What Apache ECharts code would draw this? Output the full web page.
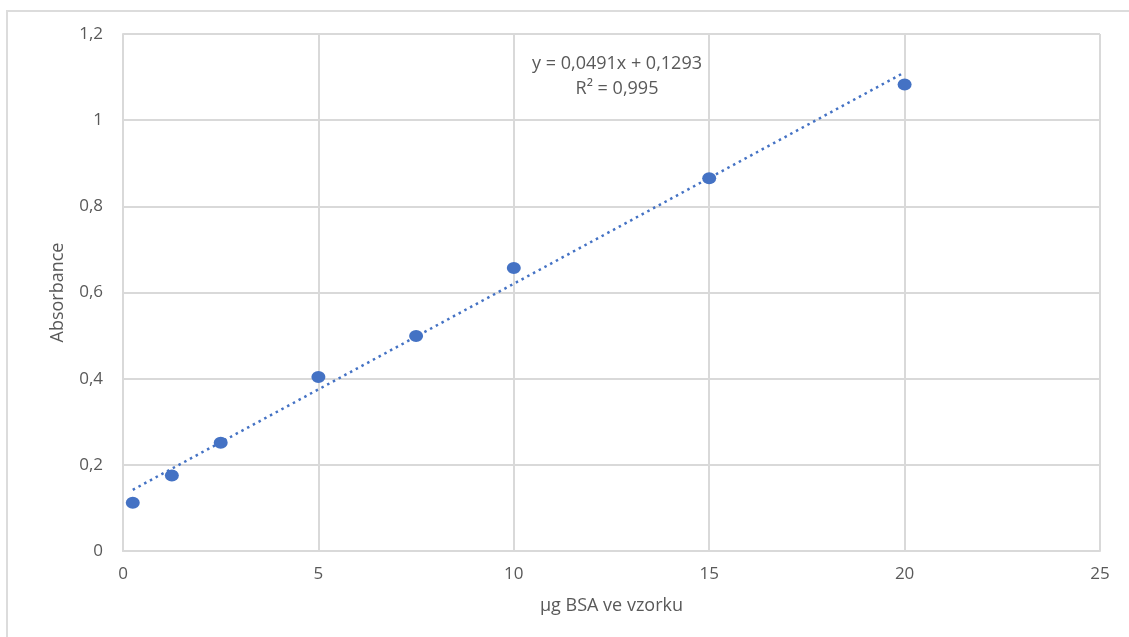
<!doctype html>
<html>
<head>
  <meta charset="utf-8">
  <title>Absorbance BSA</title>
  <script src="https://cdn.jsdelivr.net/npm/echarts@6/dist/echarts.min.js"></script>
  <style>
    html, body { margin: 0; padding: 0; background: #fff; }
    #main { width: 1129px; height: 637px; }
  </style>
</head>
<body>
  <div id="main"></div>
  <script>
  // measured points (µg BSA, absorbance)
  var bsa = [0.25, 1.25, 2.5, 5, 7.5, 10, 15, 20];
  var absorbance = [0.112, 0.175, 0.251, 0.404, 0.499, 0.657, 0.865, 1.083];
  // linear trendline ends as drawn
  var trendX = [0.25, 20];
  var trendY = [0.142, 1.111];
  var equation = ['y = 0,0491x + 0,1293', 'R² = 0,995'];

  var grey = '#595959';
  var gridCol = '#d9d9d9';
  var blue = '#4472c4';
  var font = '"Open Sans"';

  var pts = bsa.map(function (x, i) { return [x, absorbance[i]]; });
  var trend = trendX.map(function (x, i) { return [x, trendY[i]]; });

  function comma(v) {
    return String(+v.toFixed(1)).replace('.', ',');
  }

  var option = {
    animation: false,
    textStyle: { fontFamily: font },
    grid: { left: 123, top: 34, right: 29, bottom: 86 },
    graphic: [
      {
        type: 'rect', z: -10, silent: true,
        shape: { x: 7, y: 11, width: 1300, height: 800 },
        style: { fill: 'none', stroke: '#dcdcdc', lineWidth: 2 }
      },
      {
        type: 'text', z: 10, silent: true,
        x: 617, y: 51,
        style: {
          text: equation.join('\n'), textAlign: 'center',
          fill: grey, font: '18px ' + font, lineHeight: 25
        }
      }
    ],
    xAxis: {
      type: 'value', min: 0, max: 25, interval: 5,
      name: 'μg BSA ve vzorku', nameLocation: 'middle', nameGap: 46,
      nameTextStyle: { color: grey, fontSize: 18 },
      axisLine: { show: true, lineStyle: { color: gridCol, width: 2 } },
      axisTick: { show: false },
      axisLabel: { color: grey, fontSize: 17, margin: 15 },
      splitLine: { show: true, lineStyle: { color: gridCol, width: 2 } }
    },
    yAxis: {
      type: 'value', min: 0, max: 1.2, interval: 0.2,
      name: 'Absorbance', nameLocation: 'middle', nameGap: 56,
      nameTextStyle: { color: grey, fontSize: 18 },
      axisLine: { show: true, lineStyle: { color: gridCol, width: 2 } },
      axisTick: { show: false },
      axisLabel: { color: grey, fontSize: 17, margin: 20, formatter: comma },
      splitLine: { show: true, lineStyle: { color: gridCol, width: 2 } }
    },
    series: [
      {
        type: 'line', data: trend, symbol: 'none', silent: true,
        lineStyle: { color: blue, width: 2.5, type: [2.5, 4] },
        z: 2
      },
      {
        type: 'scatter', data: pts, symbol: 'circle', symbolSize: [14, 12],
        itemStyle: { color: blue, opacity: 1 },
        z: 3
      }
    ]
  };

  var myChart = echarts.init(document.getElementById('main'));
  myChart.setOption(option);
  </script>
</body>
</html>
